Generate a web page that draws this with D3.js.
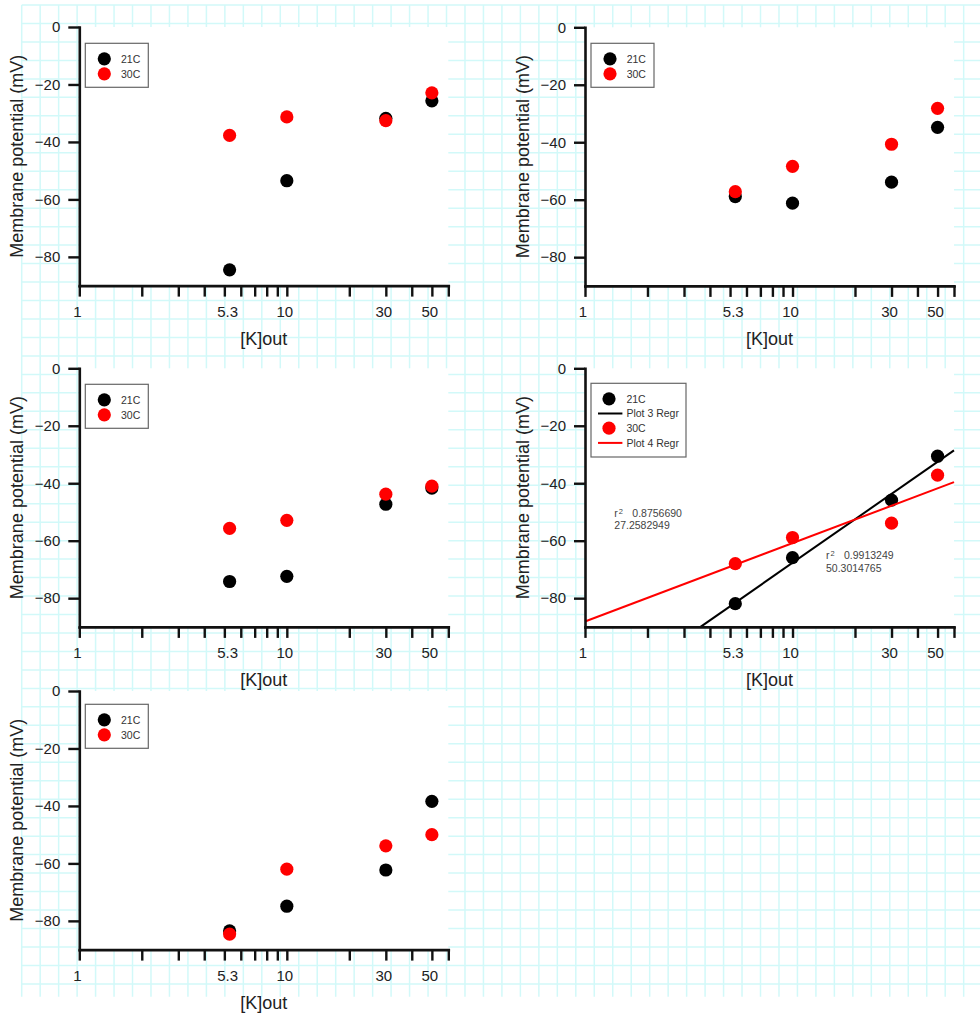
<!DOCTYPE html>
<html>
<head>
<meta charset="utf-8">
<script src="https://cdn.jsdelivr.net/npm/d3@7"></script>
<style>
  body { margin: 0; background: #fff; }
  svg { display: block; }
</style>
</head>
<body>
<div id="chart"></div>
<script>
// ---- data ----
const kOut = [5.3, 10, 30, 50];
const xTickLabels = [1, 5.3, 10, 30, 50];
const xTickMarks = [1, 2, 3, 4, 5, 6, 7, 8, 9, 10, 20, 30, 40, 50, 60];
const yTicks = [0, -20, -40, -60, -80];
const seriesNames = ["21C", "30C"];

const cellA_21C = [-84.5, -53.5, -31.8, -25.7];
const cellA_30C = [-37.7, -31.3, -32.6, -22.9];
const cellB_21C = [-58.9, -61.2, -53.9, -34.8];
const cellB_30C = [-57.2, -48.4, -40.7, -28.2];
const cellC_21C = [-74.2, -72.4, -47.3, -41.7];
const cellC_30C = [-55.7, -52.9, -43.8, -41.0];
const cellD_21C = [-81.9, -65.9, -45.9, -30.6];
const cellD_30C = [-68.0, -58.9, -53.9, -37.2];
const cellE_21C = [-83.5, -74.9, -62.3, -38.4];
const cellE_30C = [-84.6, -62.0, -53.9, -50.0];

// regression fits shown on panel D (mV per decade of [K]out)
const regrNames = ["Plot 3 Regr", "Plot 4 Regr"];
const regrSlope = [50.3014765, 27.2582949];
const regrIntercept = [-118.0, -88.1];
const regrR2 = ["0.9913249", "0.8756690"];

const colors = ["#000000", "#ff0000"];
const font = "'Liberation Sans', Arial, sans-serif";

const width = 980, height = 1018;
const W = 369, H = 258.6;

const svg = d3.select("#chart").append("svg")
  .attr("width", width).attr("height", height);

// graph-paper background
const grid = svg.append("g").attr("stroke", "#d2f9f9").attr("stroke-width", 1.5);
const step = 18.47;
for (let gx = 21.7; gx <= width; gx += step) {
  grid.append("line").attr("x1", gx).attr("x2", gx).attr("y1", 5).attr("y2", 996.7);
}
for (let gy = 5; gy <= 997; gy += step) {
  grid.append("line").attr("x1", 21.7).attr("x2", width).attr("y1", gy).attr("y2", gy);
}

const panels = [
  { x: 79.3, y: 27.0, s21: cellA_21C, s30: cellA_30C, legY: 16.3 },
  { x: 585,  y: 27.3, s21: cellB_21C, s30: cellB_30C, legY: 16.0 },
  { x: 79.3, y: 368.3, s21: cellC_21C, s30: cellC_30C, legY: 16.0 },
  { x: 585,  y: 368.3, s21: cellD_21C, s30: cellD_30C, legY: 15.0, regr: true },
  { x: 79.3, y: 691.0, s21: cellE_21C, s30: cellE_30C, legY: 13.3 }
];

const x = d3.scaleLog().domain([1, 60]).range([0, W]);
const y = d3.scaleLinear().domain([-90, 0]).range([H, 0]);

panels.forEach(p => {
  const g = svg.append("g").attr("transform", `translate(${p.x},${p.y})`);

  g.append("rect").attr("x", 0).attr("y", 0).attr("width", W).attr("height", H)
    .attr("fill", "#fff");

  // regression lines (under the points)
  const lineData = [];
  if (p.regr) {
    regrSlope.forEach((b, i) => {
      // clip to the visible y range
      const a = regrIntercept[i];
      let x0 = 1;
      const yAt1 = a;
      if (yAt1 < -90) x0 = Math.pow(10, (-90 - a) / b);
      lineData.push({ i, pts: [[x0, a + b * Math.log10(x0)], [60, a + b * Math.log10(60)]] });
    });
  }
  const line = d3.line().x(d => x(d[0])).y(d => y(d[1]));

  const drawSeries = (vals, i) => {
    g.append("g").selectAll("circle").data(vals).enter().append("circle")
      .attr("cx", (d, j) => x(kOut[j]))
      .attr("cy", d => y(d))
      .attr("r", 6.6)
      .attr("fill", colors[i]);
    if (p.regr) {
      g.append("path").datum(lineData[i].pts)
        .attr("d", line).attr("fill", "none")
        .attr("stroke", colors[i]).attr("stroke-width", 2);
    }
  };
  drawSeries(p.s21, 0);
  drawSeries(p.s30, 1);

  // axes
  const xAxis = d3.axisBottom(x).tickValues(xTickMarks).tickSize(11).tickSizeOuter(0).tickFormat("");
  const yAxis = d3.axisLeft(y).tickValues(yTicks).tickSize(11).tickSizeOuter(0).tickFormat(d3.format("d"));

  const gx = g.append("g").attr("transform", `translate(0,${H})`).call(xAxis);
  const gy = g.append("g").call(yAxis);
  [gx, gy].forEach(a => {
    a.select(".domain").attr("stroke", "#111").attr("stroke-width", 2.6).attr("stroke-linecap", "square");
    a.selectAll(".tick line").attr("stroke", "#111").attr("stroke-width", 2.4);
  });
  gy.selectAll(".tick text")
    .attr("x", -19)
    .attr("font-family", font).attr("font-size", 15).attr("fill", "#222");

  g.append("g").selectAll("text").data(xTickLabels).enter().append("text")
    .attr("x", d => x(d) - 2)
    .attr("y", H + 31)
    .attr("text-anchor", "middle")
    .attr("font-family", font).attr("font-size", 15).attr("fill", "#222")
    .text(d => d);

  // axis titles
  g.append("text")
    .attr("x", W / 2).attr("y", H + 59.5)
    .attr("text-anchor", "middle")
    .attr("font-family", font).attr("font-size", 18).attr("fill", "#222")
    .text("[K]out");
  g.append("text")
    .attr("transform", `translate(-56,${H / 2}) rotate(-90)`)
    .attr("text-anchor", "middle")
    .attr("font-family", font).attr("font-size", 18).attr("fill", "#222")
    .text("Membrane potential (mV)");

  // legend
  const entries = p.regr
    ? [{ t: seriesNames[0], c: 0, k: "dot" }, { t: regrNames[0], c: 0, k: "line" },
       { t: seriesNames[1], c: 1, k: "dot" }, { t: regrNames[1], c: 1, k: "line" }]
    : [{ t: seriesNames[0], c: 0, k: "dot" }, { t: seriesNames[1], c: 1, k: "dot" }];
  const rowH = p.regr ? 14.7 : 15;
  const leg = g.append("g").attr("transform", `translate(6,${p.legY})`);
  leg.append("rect")
    .attr("width", p.regr ? 95 : 63)
    .attr("height", p.regr ? 73.7 : 44)
    .attr("fill", "#fff").attr("stroke", "#666").attr("stroke-width", 1.2);
  entries.forEach((e, i) => {
    const ey = 15.5 + i * rowH;
    if (e.k === "dot") {
      leg.append("circle").attr("cx", p.regr ? 18 : 19).attr("cy", ey).attr("r", 6.6).attr("fill", colors[e.c]);
    } else {
      leg.append("line").attr("x1", 7).attr("x2", 31.4).attr("y1", ey).attr("y2", ey)
        .attr("stroke", colors[e.c]).attr("stroke-width", 2);
    }
    leg.append("text")
      .attr("x", p.regr ? 35.4 : 35.7).attr("y", ey).attr("dy", "0.36em")
      .attr("font-family", font).attr("font-size", 10.5).attr("fill", "#333")
      .text(e.t);
  });

  // fit annotations
  if (p.regr) {
    const notes = [
      { i: 1, dx: 29.3, dy: 149 },
      { i: 0, dx: 241, dy: 191.2 }
    ];
    notes.forEach(n => {
      const t = g.append("text")
        .attr("font-family", font).attr("font-size", 10.5).attr("fill", "#444");
      t.append("tspan").attr("x", n.dx).attr("y", n.dy).text("r");
      t.append("tspan").attr("x", n.dx + 4.5).attr("y", n.dy - 3).attr("font-size", 7.5).text("2");
      t.append("tspan").attr("x", n.dx + 18).attr("y", n.dy).text(regrR2[n.i]);
      g.append("text")
        .attr("x", n.dx).attr("y", n.dy + 12.2)
        .attr("font-family", font).attr("font-size", 10.5).attr("fill", "#444")
        .text(regrSlope[n.i].toFixed(7));
    });
  }
});
</script>
</body>
</html>
